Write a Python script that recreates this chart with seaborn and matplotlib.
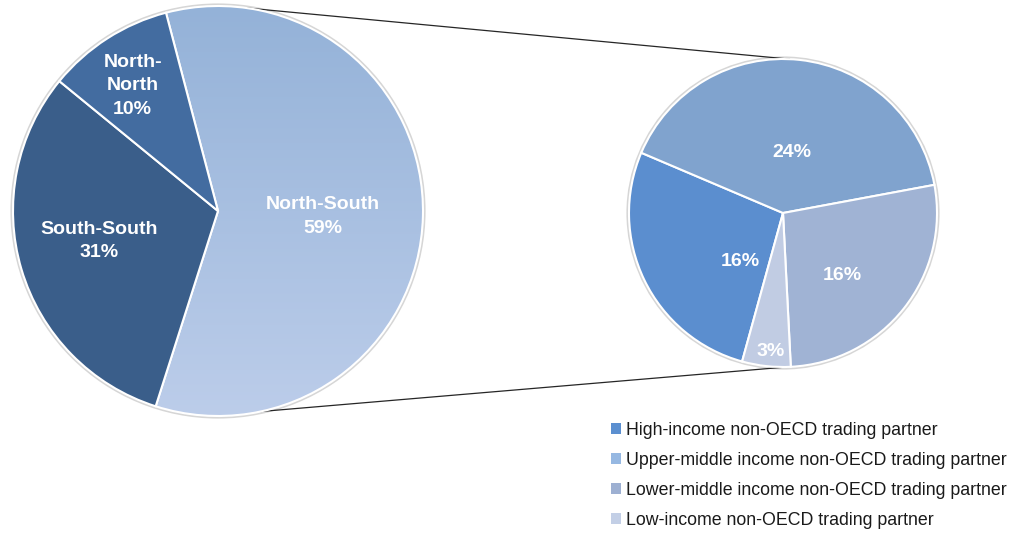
import numpy as np
import matplotlib
matplotlib.use("Agg")
import matplotlib.pyplot as plt
from matplotlib.colors import LinearSegmentedColormap
from matplotlib.patches import Circle, Patch
import seaborn as sns

# Trade flows by partner group (share of total, %)
main_labels = ["North-South", "South-South", "North-North"]
main_values = [59, 31, 10]
main_text = ["North-South\n59%", "South-South\n31%", "North-\nNorth\n10%"]

# Breakdown of the North-South share by non-OECD partner income group (%)
detail_labels = [
    "High-income non-OECD trading partner",
    "Upper-middle income non-OECD trading partner",
    "Lower-middle income non-OECD trading partner",
    "Low-income non-OECD trading partner",
]
detail_values = [16, 24, 16, 3]

main_colors = ["#a8c0e0", "#3a5e8a", "#436ca0"]
detail_colors = ["#5b8ecf", "#80a3ce", "#a0b3d4", "#c1cce3"]
legend_colors = ["#5b8fd0", "#96b8e2", "#9db0d2", "#c3cfe6"]
gradient_top, gradient_bottom = "#94b2d8", "#bccdea"

sns.set_theme(style="white")
plt.rcParams["font.family"] = ["Liberation Sans", "DejaVu Sans"]

W, H = 1012, 534
fig = plt.figure(figsize=(W / 100, H / 100), dpi=100)
ax = fig.add_axes([0, 0, 1, 1])

main_c, main_r = (218.0, 323.0), 205.0
det_c, det_r = (783.0, 321.0), 154.0

# soft outline around each pie
for c, r in ((main_c, main_r), (det_c, det_r)):
    ax.add_patch(Circle(c, r + 1.2, facecolor="none", edgecolor="#d6d6d6",
                        linewidth=2.0, zorder=0))

main_wedges, _ = ax.pie(main_values, colors=main_colors, startangle=104.7,
                        counterclock=False, center=main_c, radius=main_r,
                        frame=True,
                        wedgeprops=dict(edgecolor="white", linewidth=1.5, zorder=2))
det_wedges, _ = ax.pie(detail_values, colors=detail_colors, startangle=254.6,
                       counterclock=False, center=det_c, radius=det_r,
                       frame=True, labels=None,
                       wedgeprops=dict(edgecolor="white", linewidth=1.5, zorder=2))

# vertical gradient fill for the North-South wedge
cmap = LinearSegmentedColormap.from_list("ns", [gradient_bottom, gradient_top])
grad = np.linspace(0, 1, 256).reshape(-1, 1)
img = ax.imshow(grad, cmap=cmap, origin="lower", aspect="auto",
                extent=[main_c[0] - main_r, main_c[0] + main_r,
                        main_c[1] - main_r, main_c[1] + main_r], zorder=1)
img.set_clip_path(main_wedges[0])
main_wedges[0].set_facecolor("none")


def place_labels(wedges, texts, center, radius, fracs, shifts):
    for w, t, f, s in zip(wedges, texts, fracs, shifts):
        mid = np.deg2rad((w.theta1 + w.theta2) / 2 + s)
        x = center[0] + radius * f * np.cos(mid)
        y = center[1] + radius * f * np.sin(mid)
        ax.text(x, y, t, ha="center", va="center", color="white",
                fontsize=14, fontweight="bold", linespacing=1.5, zorder=3)


place_labels(main_wedges, main_text, main_c, main_r,
             [0.51, 0.60, 0.74], [-1.5, -2.5, 1.5])
det_text = [f"{v}%" for v in detail_values]
place_labels(det_wedges, det_text, det_c, det_r,
             [0.42, 0.40, 0.56, 0.90], [23, -2, -8, 1])

# connector lines between the two pies
def on_circle(center, radius, deg):
    a = np.deg2rad(deg)
    return center[0] + radius * np.cos(a), center[1] + radius * np.sin(a)

for a_main, a_det in ((81.9, 87.5), (-78.0, -88.5)):
    p0 = on_circle(main_c, main_r, a_main)
    p1 = on_circle(det_c, det_r, a_det)
    ax.plot([p0[0], p1[0]], [p0[1], p1[1]], color="#262626", linewidth=0.9,
            zorder=0.5)

handles = [Patch(facecolor=c, edgecolor="none") for c in legend_colors]
leg = ax.legend(handles, detail_labels, loc="upper left",
                bbox_to_anchor=(611, 534 - 422), bbox_transform=ax.transData,
                frameon=False, fontsize=12.8, handlelength=0.55,
                handleheight=0.55, handletextpad=0.3, labelspacing=0.73,
                borderpad=0, borderaxespad=0)
for t in leg.get_texts():
    t.set_color("#1a1a1a")

ax.set_xlim(0, W)
ax.set_ylim(0, H)
ax.set_aspect("equal")
ax.axis("off")

fig.savefig("out.png", dpi=100, facecolor="white")
